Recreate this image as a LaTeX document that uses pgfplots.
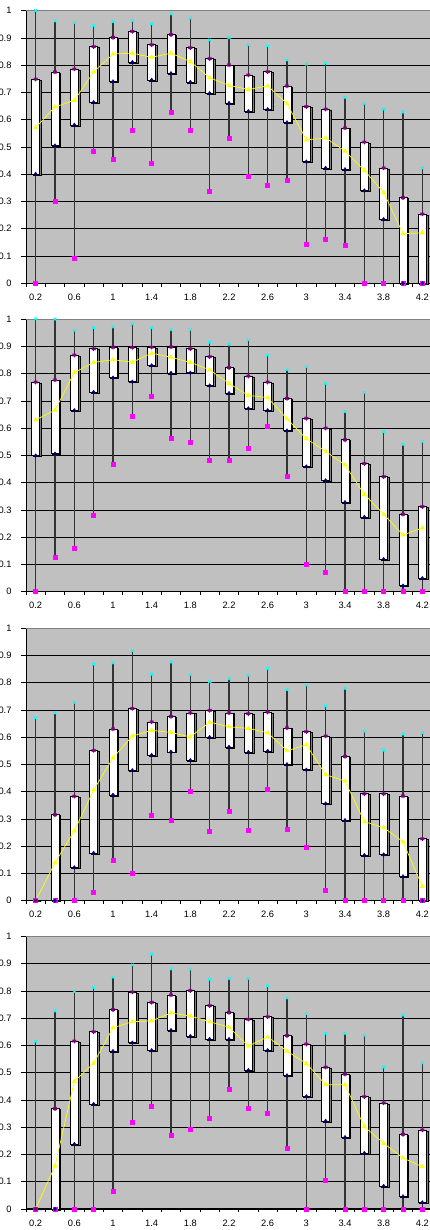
\documentclass[border=0pt]{standalone}
\usepackage{fontspec}
\setmainfont{Liberation Sans}
\usepackage{pgfplots}
\usepackage{pgfplotstable}
\pgfplotsset{compat=1.18}
\usepgfplotslibrary{statistics}
\usetikzlibrary{shadows}
\definecolor{excelgray}{HTML}{C0C0C0}
\definecolor{xmagenta}{HTML}{FF00FF}
\definecolor{xnavy}{HTML}{000080}
\definecolor{xpurple}{HTML}{800080}
\definecolor{xcyan}{HTML}{00FFFF}
\definecolor{xyellow}{HTML}{FFFF00}

\pgfplotstableread{
x lw lq med uq uw
0 0 0.401 0.571 0.749 1.000
1 0.301 0.505 0.647 0.775 0.962
2 0.092 0.581 0.671 0.786 0.955
3 0.483 0.664 0.775 0.868 0.945
4 0.456 0.740 0.841 0.902 0.960
5 0.562 0.811 0.844 0.924 0.963
6 0.439 0.746 0.829 0.875 0.951
7 0.626 0.770 0.844 0.912 0.988
8 0.560 0.738 0.813 0.864 0.972
9 0.336 0.697 0.754 0.824 0.892
10 0.532 0.661 0.726 0.801 0.901
11 0.391 0.631 0.711 0.764 0.874
12 0.361 0.638 0.724 0.776 0.870
13 0.379 0.590 0.659 0.724 0.819
14 0.144 0.446 0.526 0.648 0.804
15 0.160 0.423 0.533 0.639 0.807
16 0.141 0.418 0.485 0.570 0.682
17 0 0.340 0.414 0.518 0.659
18 0 0.235 0.333 0.423 0.638
19 0 0 0.182 0.314 0.628
20 0 0 0.185 0.254 0.422
}\tA

\pgfplotstableread{
x lw lq med uq uw
0 0 0.499 0.630 0.769 1.000
1 0.125 0.506 0.666 0.777 1.000
2 0.160 0.665 0.804 0.868 0.958
3 0.280 0.732 0.841 0.891 0.968
4 0.469 0.785 0.851 0.897 0.971
5 0.644 0.770 0.842 0.896 0.982
6 0.717 0.830 0.875 0.897 0.968
7 0.563 0.802 0.860 0.898 0.961
8 0.550 0.803 0.841 0.891 0.961
9 0.483 0.756 0.814 0.862 0.914
10 0.481 0.728 0.764 0.822 0.907
11 0.526 0.672 0.720 0.791 0.923
12 0.606 0.665 0.712 0.769 0.867
13 0.425 0.591 0.634 0.709 0.814
14 0.100 0.459 0.561 0.636 0.824
15 0.073 0.408 0.515 0.600 0.763
16 0 0.328 0.465 0.557 0.660
17 0 0.274 0.357 0.470 0.730
18 0 0.119 0.284 0.422 0.586
19 0 0.022 0.208 0.284 0.540
20 0 0.049 0.234 0.312 0.550
}\tB

\pgfplotstableread{
x lw lq med uq uw
0 0 0 0 0 0.670
1 0 0 0.139 0.315 0.689
2 0 0.122 0.256 0.383 0.726
3 0.031 0.175 0.406 0.551 0.867
4 0.149 0.388 0.524 0.630 0.872
5 0.101 0.478 0.604 0.705 0.916
6 0.314 0.534 0.625 0.656 0.830
7 0.295 0.546 0.617 0.676 0.875
8 0.400 0.515 0.601 0.689 0.828
9 0.254 0.600 0.655 0.698 0.804
10 0.328 0.564 0.638 0.689 0.814
11 0.260 0.545 0.632 0.686 0.826
12 0.410 0.549 0.616 0.692 0.851
13 0.264 0.500 0.550 0.634 0.774
14 0.196 0.480 0.572 0.620 0.790
15 0.038 0.356 0.462 0.604 0.714
16 0 0.295 0.439 0.529 0.779
17 0 0.167 0.290 0.392 0.621
18 0 0.169 0.268 0.392 0.551
19 0 0.089 0.216 0.384 0.611
20 0 0 0.052 0.227 0.615
}\tC

\pgfplotstableread{
x lw lq med uq uw
0 0 0 0 0 0.615
1 0 0 0.158 0.368 0.727
2 0 0.238 0.468 0.616 0.797
3 0 0.385 0.535 0.650 0.812
4 0.067 0.579 0.665 0.731 0.850
5 0.317 0.610 0.687 0.796 0.895
6 0.378 0.582 0.690 0.758 0.934
7 0.271 0.656 0.719 0.785 0.881
8 0.291 0.634 0.708 0.801 0.879
9 0.334 0.623 0.687 0.746 0.842
10 0.440 0.623 0.667 0.721 0.845
11 0.368 0.509 0.598 0.696 0.845
12 0.352 0.582 0.631 0.705 0.818
13 0.224 0.490 0.579 0.636 0.774
14 0 0.413 0.534 0.605 0.715
15 0.105 0.323 0.456 0.520 0.644
16 0 0.263 0.456 0.495 0.644
17 0 0.205 0.302 0.412 0.636
18 0 0.084 0.241 0.389 0.520
19 0 0.046 0.187 0.274 0.711
20 0 0.024 0.155 0.290 0.535
}\tD

\pgfplotsset{
  panel/.style={
    scale only axis, width=406pt, height=272.6pt,
    xmin=-0.5, xmax=20.5, ymin=0, ymax=1,
    axis background/.style={fill=excelgray},
    axis x line*=bottom, axis y line*=left,
    axis line style={black, line width=1pt, -},
    ytick={0,0.1,0.2,0.3,0.4,0.5,0.6,0.7,0.8,0.9,1},
    yticklabels={0,0.1,0.2,0.3,0.4,0.5,0.6,0.7,0.8,0.9,1},
    ymajorgrids, grid style={black, line width=0.7pt},
    xtick={0,2,...,20},
    xticklabels={0.2,0.6,1,1.4,1.8,2.2,2.6,3,3.4,3.8,4.2},
    xtick style={draw=none},
    extra x ticks={-0.5,0.5,...,20.5},
    extra x tick labels={},
    extra x tick style={major tick length=3.5pt, xtick style={draw=black}},
    tick align=outside, major tick length=5pt,
    tick style={black, line width=0.7pt},
    tick label style={font=\fontsize{9.3}{11}\selectfont},
    yticklabel style={anchor=east, inner sep=0pt, xshift=-9.3pt},
    xticklabel style={anchor=north, inner sep=0pt, yshift=-5.5pt},
    /pgf/number format/assume math mode=true,
    clip=false,
    boxplot/draw direction=y,
    boxplot/draw/median/.code={},
    boxplot/draw/lower whisker/.code={%
      \draw[/pgfplots/boxplot/every whisker/.try]
        (boxplot cs:\pgfplotsboxplotvalue{lower whisker}) --
        (boxplot cs:\pgfplotsboxplotvalue{lower quartile});},
    boxplot/draw/upper whisker/.code={%
      \draw[/pgfplots/boxplot/every whisker/.try]
        (boxplot cs:\pgfplotsboxplotvalue{upper quartile}) --
        (boxplot cs:\pgfplotsboxplotvalue{upper whisker});},
    boxplot/every box/.style={draw=black, fill=white, line width=0.7pt,
      drop shadow={shadow xshift=1.4pt, shadow yshift=-0.8pt, fill=black!50, opacity=1}},
    boxplot/every whisker/.style={draw=black!80, line width=1.3pt},
  }
}

\newcommand\panel[2]{%
\begin{axis}[panel, at={(26pt,#2)}, anchor=south west]
\pgfplotsinvokeforeach{0,...,20}{
  \pgfplotstablegetelem{##1}{lw}\of#1\let\vlw\pgfplotsretval
  \pgfplotstablegetelem{##1}{lq}\of#1\let\vlq\pgfplotsretval
  \pgfplotstablegetelem{##1}{med}\of#1\let\vmed\pgfplotsretval
  \pgfplotstablegetelem{##1}{uq}\of#1\let\vuq\pgfplotsretval
  \pgfplotstablegetelem{##1}{uw}\of#1\let\vuw\pgfplotsretval
  \edef\doplot{\noexpand\addplot[boxplot prepared={draw position=##1,
      box extend=0.42, lower whisker=\vlw, lower quartile=\vlq,
      median=\vmed, upper quartile=\vuq, upper whisker=\vuw}]
    coordinates {};}%
  \doplot
}
\draw[black!50, line width=0.8pt] (rel axis cs:0,1) -- (rel axis cs:1,1);
\addplot[xyellow, line width=0.7pt, mark=triangle*, mark size=2.2pt,
  mark options={fill=xyellow, draw=xyellow}] table[x=x, y=med] {#1};
\addplot[only marks, mark=square*, mark size=2pt,
  mark options={fill=xmagenta, draw=xmagenta}] table[x=x, y=lw] {#1};
\addplot[only marks, mark=diamond*, mark size=1.9pt,
  mark options={fill=xnavy, draw=xnavy}] table[x=x, y=lq] {#1};
\addplot[only marks, mark=asterisk, mark size=2.2pt,
  mark options={draw=xpurple, line width=1.1pt}] table[x=x, y=uq] {#1};
\addplot[only marks, mark=x, mark size=1.9pt,
  mark options={draw=xcyan, line width=1pt}] table[x=x, y=uw] {#1};
\end{axis}}

\begin{document}
\begin{tikzpicture}
\path[use as bounding box] (0,0) rectangle (429pt,1230pt);
\panel{\tA}{946.7pt}
\panel{\tB}{638.3pt}
\panel{\tC}{329.3pt}
\panel{\tD}{21pt}
\end{tikzpicture}
\end{document}
